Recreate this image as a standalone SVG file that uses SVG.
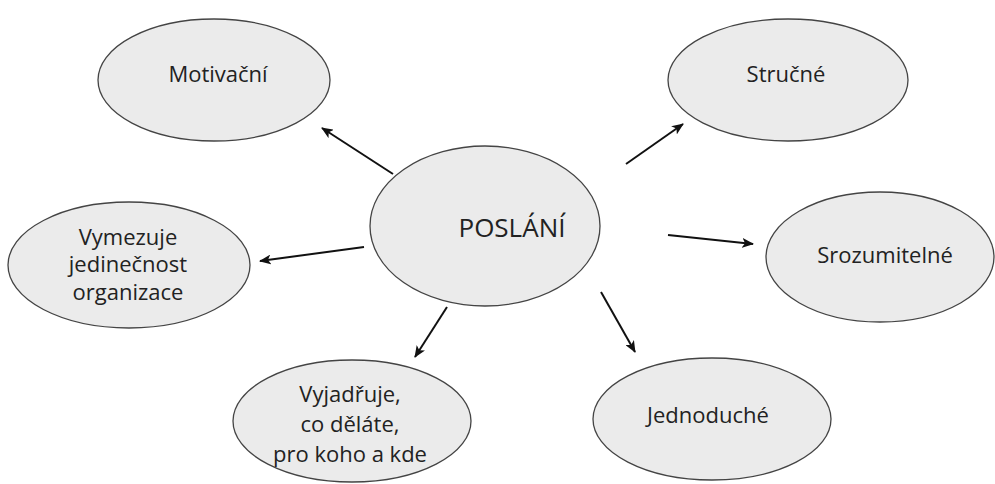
<svg xmlns="http://www.w3.org/2000/svg" width="995" height="484" viewBox="0 0 995 484">
<style>
.n{fill:#ebebeb;stroke:#444;stroke-width:1.3}
.t{font-family:"Open Sans","Noto Sans",sans-serif;font-size:22px;fill:#222;text-anchor:middle}
.c{stroke:#111;stroke-width:2;fill:none;marker-end:url(#ah)}
</style>
<defs>
<marker id="ah" viewBox="0 0 12 10" refX="11" refY="5" markerWidth="12" markerHeight="10" markerUnits="userSpaceOnUse" orient="auto">
<path d="M0,0 L12,5 L0,10 L3,5 Z" fill="#111"/>
</marker>
</defs>
<rect width="995" height="484" fill="#fff"/>
<g id="connectors">
<line class="c" x1="393" y1="174" x2="322" y2="128"/>
<line class="c" x1="626" y1="164" x2="683" y2="124"/>
<line class="c" x1="668" y1="235" x2="753" y2="244"/>
<line class="c" x1="601" y1="292" x2="635" y2="352"/>
<line class="c" x1="364" y1="247" x2="260" y2="261"/>
<line class="c" x1="447" y1="307" x2="415" y2="357"/>
</g>
<g id="poslani">
<ellipse class="n" cx="485" cy="226" rx="115" ry="80"/>
<text class="t" x="512" y="237" style="font-size:26px">POSLÁNÍ</text>
</g>
<g id="motivacni">
<ellipse class="n" cx="214" cy="80" rx="116" ry="61"/>
<text class="t" x="218" y="82">Motivační</text>
</g>
<g id="strucne">
<ellipse class="n" cx="788" cy="80" rx="120" ry="61"/>
<text class="t" x="786" y="82">Stručné</text>
</g>
<g id="srozumitelne">
<ellipse class="n" cx="880" cy="257" rx="114" ry="65"/>
<text class="t" x="885" y="263">Srozumitelné</text>
</g>
<g id="vymezuje">
<ellipse class="n" cx="129" cy="265" rx="121" ry="63"/>
<text class="t" x="128" y="245">Vymezuje</text>
<text class="t" x="128" y="272">jedinečnost</text>
<text class="t" x="128" y="300">organizace</text>
</g>
<g id="vyjadruje">
<ellipse class="n" cx="352" cy="421" rx="119" ry="61"/>
<text class="t" x="350" y="402">Vyjadřuje,</text>
<text class="t" x="350" y="432">co děláte,</text>
<text class="t" x="350" y="462">pro koho a kde</text>
</g>
<g id="jednoduche">
<ellipse class="n" cx="712" cy="419" rx="119" ry="61"/>
<text class="t" x="708" y="423">Jednoduché</text>
</g>
</svg>
